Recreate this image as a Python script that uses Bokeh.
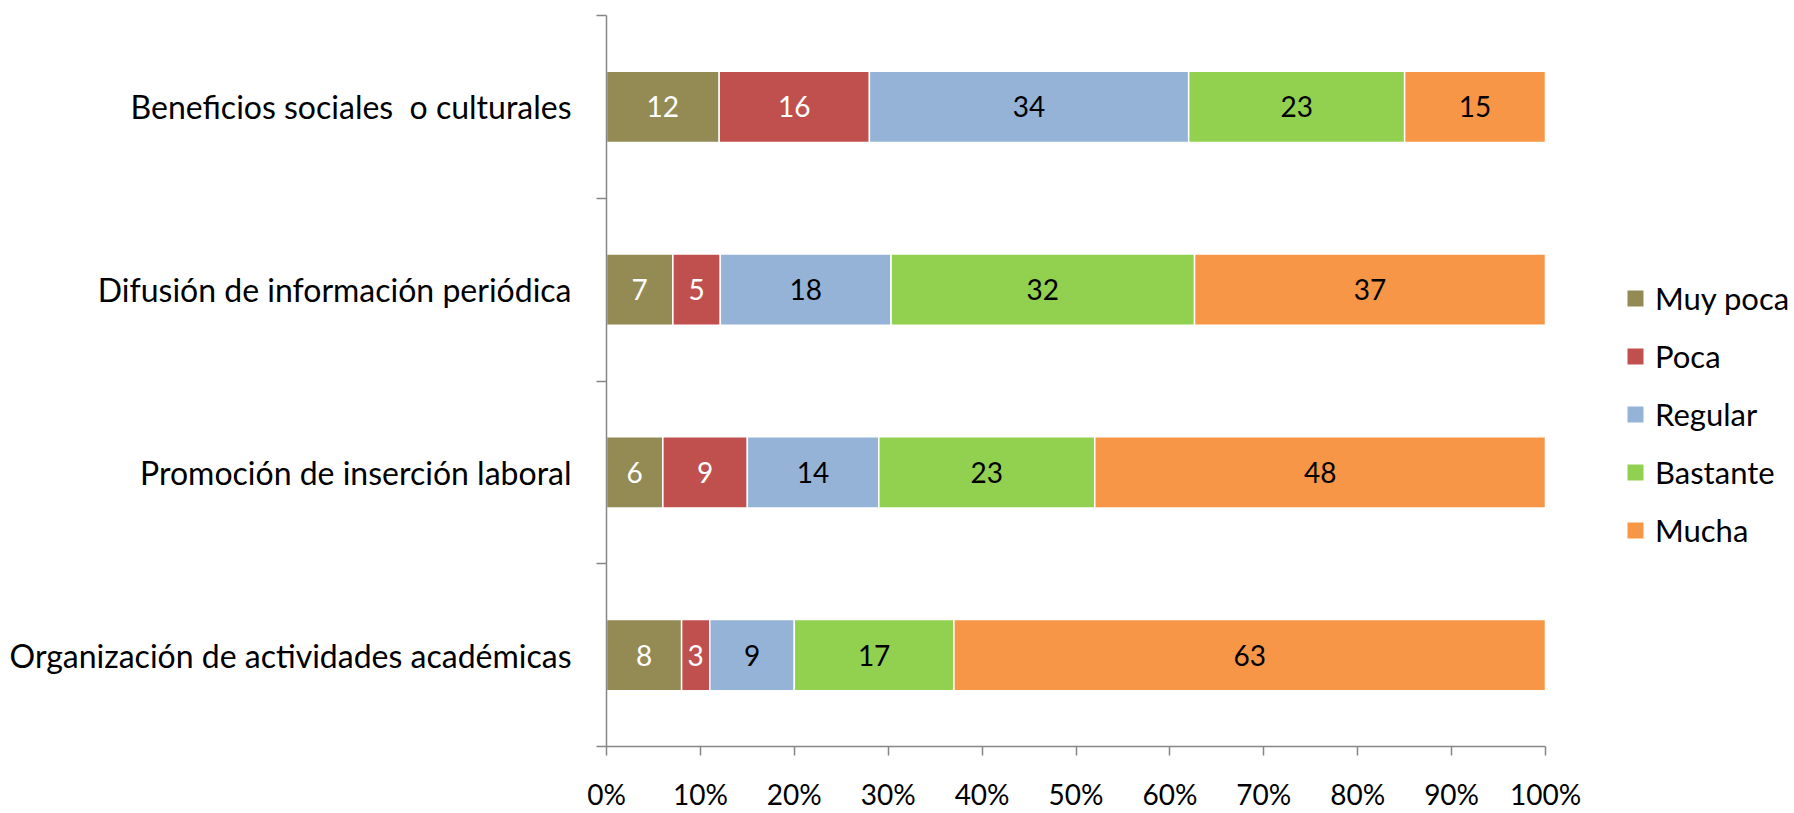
from bokeh.plotting import figure
from bokeh.models import Range1d, FixedTicker, ColumnDataSource, Legend, LegendItem
from bokeh.core.properties import value
from bokeh.embed import file_html
from bokeh.resources import INLINE

# ---- data (top to bottom) ----
categories = [
    "Beneficios sociales \u00a0o culturales",
    "Difusión de información periódica",
    "Promoción de inserción laboral",
    "Organización de actividades académicas",
]
series_names = ["Muy poca", "Poca", "Regular", "Bastante", "Mucha"]
muy_poca = [12, 7, 6, 8]
poca = [16, 5, 9, 3]
regular = [34, 18, 14, 9]
bastante = [23, 32, 23, 17]
mucha = [15, 37, 48, 63]
x_ticks = [0, 10, 20, 30, 40, 50, 60, 70, 80, 90, 100]
x_tick_labels = ["0%", "10%", "20%", "30%", "40%", "50%", "60%", "70%", "80%", "90%", "100%"]

colors = ["#948A54", "#C0504D", "#95B3D7", "#92D050", "#F79646"]
label_colors = ["white", "white", "black", "black", "black"]
FONT = "Lato"

series = [muy_poca, poca, regular, bastante, mucha]
n = len(categories)
y_pos = [n - 0.5 - i for i in range(n)]
totals = [sum(s[i] for s in series) for i in range(n)]

# plot area: axis from x=606 to x=1545 (100%), frame continues to the right edge for the legend
W, H = 1794, 813
AX_L, AX_R = 606, 1545
x_end = 100 * (W - AX_L) / (AX_R - AX_L)

p = figure(width=W, height=H, output_backend="svg", toolbar_location=None,
           x_range=Range1d(0, x_end), y_range=Range1d(0, n),
           min_border_left=AX_L, min_border_right=0, min_border_top=15, min_border_bottom=64)
p.outline_line_color = None
p.xgrid.visible = False
p.ygrid.visible = False
p.background_fill_color = "white"

left = [0.0] * n
txt_x, txt_y, txt, txt_c = [], [], [], []
for k, s in enumerate(series):
    w = [s[i] / totals[i] * 100 for i in range(n)]
    right = [left[i] + w[i] for i in range(n)]
    src = ColumnDataSource(dict(y=y_pos, left=list(left), right=right))
    p.hbar(y="y", left="left", right="right", height=0.39, source=src,
           fill_color=colors[k], line_color="white", line_width=1.5)
    for i in range(n):
        txt_x.append(left[i] + w[i] / 2)
        txt_y.append(y_pos[i])
        txt.append(str(s[i]))
        txt_c.append(label_colors[k])
    left = right

lsrc = ColumnDataSource(dict(x=txt_x, y=txt_y, text=txt, c=txt_c))
p.text(x="x", y="y", text="text", source=lsrc, text_color="c",
       text_align="center", text_baseline="middle",
       text_font=value(FONT), text_font_size="28px")

# legend via marker renderers (one NaN point each, only drawn in legend)
items = []
for k, name in enumerate(series_names):
    r = p.scatter(x=[float("nan")], y=[float("nan")], marker="square", size=16,
                  fill_color=colors[k], line_color=None)
    items.append(LegendItem(label=name, renderers=[r]))
legend = Legend(items=items, location=(1009, 187), padding=0, spacing=0, margin=0,
                glyph_width=40, glyph_height=58, label_height=58, label_standoff=0,
                label_text_font=FONT, label_text_font_size="31px", label_text_color="black",
                border_line_alpha=0, background_fill_alpha=0)
p.add_layout(legend, "center")

axis_color = "#868686"
# x axis
xa = p.xaxis[0]
xa.bounds = (0, 100)
xa.ticker = FixedTicker(ticks=x_ticks, minor_ticks=[])
xa.major_label_overrides = {t: l for t, l in zip(x_ticks, x_tick_labels)}
xa.axis_line_color = axis_color
xa.axis_line_width = 1.5
xa.major_tick_line_color = axis_color
xa.major_tick_line_width = 1.5
xa.major_tick_in = 0
xa.major_tick_out = 9
xa.minor_tick_line_color = None
xa.major_label_standoff = 21
xa.major_label_text_font = FONT
xa.major_label_text_font_size = "28px"
xa.major_label_text_color = "black"

# y axis
ya = p.yaxis[0]
ya.ticker = FixedTicker(ticks=y_pos, minor_ticks=list(range(n + 1)))
ya.major_label_overrides = {y: c for y, c in zip(y_pos, categories)}
ya.axis_line_color = axis_color
ya.axis_line_width = 1.5
ya.major_tick_line_color = None
ya.major_tick_in = 0
ya.major_tick_out = 0
ya.minor_tick_line_color = axis_color
ya.minor_tick_line_width = 1.5
ya.minor_tick_in = 0
ya.minor_tick_out = 10
ya.major_label_standoff = 25
ya.major_label_text_font = FONT
ya.major_label_text_font_size = "32px"
ya.major_label_text_color = "black"

open("out.html", "w").write(file_html(p, INLINE))
